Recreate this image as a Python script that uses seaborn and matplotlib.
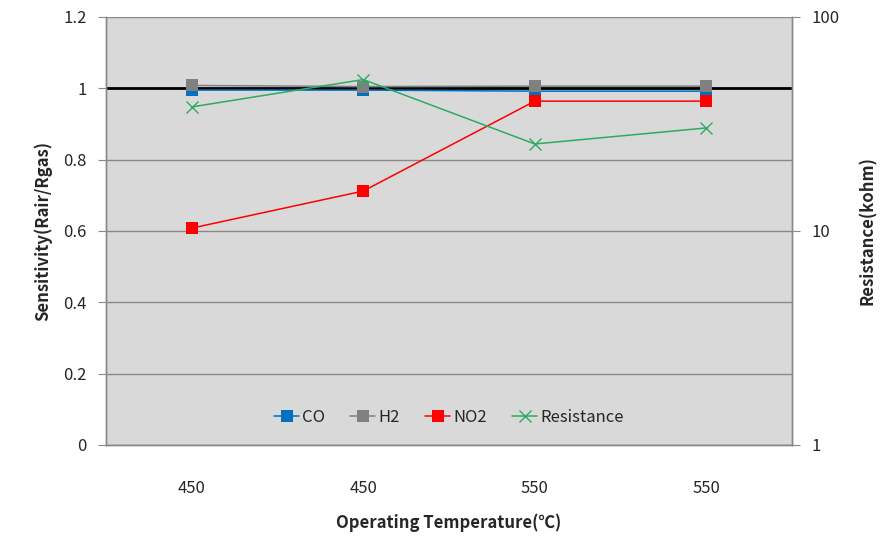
import numpy as np
import pandas as pd
import seaborn as sns
import matplotlib.pyplot as plt
from matplotlib.ticker import FixedLocator, NullFormatter

# values
temps = ["450", "450", "550", "550"]
co = [0.995, 0.995, 0.992, 0.992]
h2 = [1.008, 1.005, 1.006, 1.006]
no2 = [0.608, 0.712, 0.964, 0.964]
resistance = [38.0, 51.0, 25.5, 30.3]

sns.set_style("white")
plt.rcParams["font.family"] = ["Noto Sans CJK KR", "DejaVu Sans"]

pos = np.arange(len(temps))
df = pd.DataFrame({"pos": pos, "CO": co, "H2": h2, "NO2": no2, "Resistance": resistance})

fig = plt.figure(figsize=(8.88, 5.44), dpi=100)
ax = fig.add_axes([0.1194, 0.182, 0.7725, 0.7868])
ax.set_facecolor("#d9d9d9")
ax2 = ax.twinx()

sq = dict(marker="s", markersize=8.5, markeredgewidth=0, linewidth=1.1)
sns.lineplot(data=df, x="pos", y="CO", ax=ax, color="#0070c0", label="CO", **sq)
sns.lineplot(data=df, x="pos", y="H2", ax=ax, color="#808080", label="H2", **sq)
sns.lineplot(data=df, x="pos", y="NO2", ax=ax, color="#ff0000", label="NO2", **sq)
sns.lineplot(data=df, x="pos", y="Resistance", ax=ax2, color="#2eaa63", label="Resistance",
             marker="x", markersize=8, markeredgewidth=1, markeredgecolor="#2eaa63", linewidth=1.1)

# left axis
ax.set_ylim(0, 1.2)
ax.set_yticks(np.arange(0, 1.21, 0.2))
ax.set_yticklabels(["0", "0.2", "0.4", "0.6", "0.8", "1", "1.2"])
ax.grid(axis="y", color="#888888", linewidth=1)
ax.set_axisbelow(True)
ax.axhline(1.0, color="black", linewidth=2, zorder=1.5)

# x axis: ticks at category boundaries, labels at centres
ax.set_xlim(-0.5, len(temps) - 0.5)
ax.xaxis.set_major_locator(FixedLocator(np.arange(-0.5, len(temps), 1.0)))
ax.xaxis.set_major_formatter(NullFormatter())
ax.xaxis.set_minor_locator(FixedLocator(pos))
ax.set_xticklabels(temps, minor=True)
ax.tick_params(axis="x", which="major", length=6, color="#888888", direction="out")
ax.tick_params(axis="x", which="minor", length=0, pad=25, labelsize=12)
ax.tick_params(axis="y", length=6, color="#888888", direction="out", labelsize=12, pad=8)

# right axis
ax2.set_yscale("log")
ax2.set_ylim(1, 100)
ax2.set_yticks([1, 10, 100])
ax2.set_yticklabels(["1", "10", "100"])
ax2.yaxis.set_minor_formatter(NullFormatter())
ax2.tick_params(axis="y", which="minor", length=0)
ax2.tick_params(axis="y", which="major", length=6, color="#888888", direction="out", labelsize=12, pad=8)

for a in (ax, ax2):
    a.spines["top"].set_visible(False)
    for s in ("left", "right", "bottom"):
        a.spines[s].set_color("#888888")
        a.spines[s].set_linewidth(1)

ax.set_xlabel("Operating Temperature(℃)", fontsize=12, fontweight="bold", labelpad=12)
ax.set_ylabel("Sensitivity(Rair/Rgas)", fontsize=12, fontweight="bold", labelpad=8)
ax2.set_ylabel("Resistance(kohm)", fontsize=12, fontweight="bold", labelpad=14)

h1, l1 = ax.get_legend_handles_labels()
h2_, l2 = ax2.get_legend_handles_labels()
if ax2.get_legend():
    ax2.get_legend().remove()
ax.legend(h1 + h2_, l1 + l2, loc="lower center", bbox_to_anchor=(0.5, 0.01), ncol=4, frameon=False,
          fontsize=12, handlelength=1.5, handletextpad=0.2, columnspacing=1.5)

fig.savefig("out.png", dpi=100)
